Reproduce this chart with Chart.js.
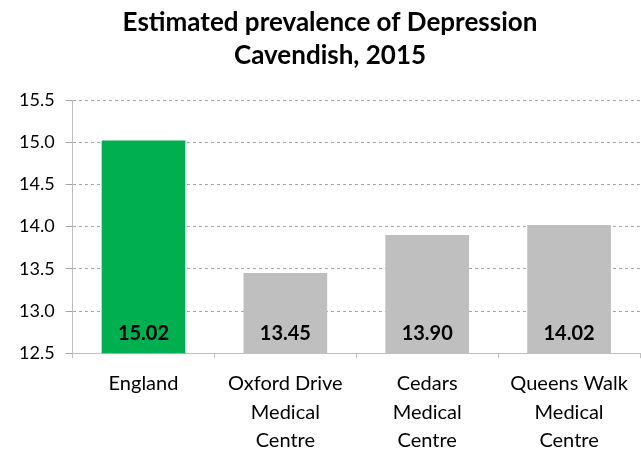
<!DOCTYPE html>
<html>
<head>
<meta charset="utf-8">
<script src="https://cdn.jsdelivr.net/npm/chart.js@4/dist/chart.umd.min.js"></script>
<style>
  html, body { margin: 0; padding: 0; background: #fff; }
  #wrap { width: 641px; height: 449px; }
</style>
</head>
<body>
<div id="wrap"><canvas id="myChart" width="641" height="449"></canvas></div>
<script>
const categories = [
  "England",
  ["Oxford Drive", "Medical", "Centre"],
  ["Cedars", "Medical", "Centre"],
  ["Queens Walk", "Medical", "Centre"],
];
const prevalence = [15.02, 13.45, 13.9, 14.02];
const barColors = ["#00B050", "#BFBFBF", "#BFBFBF", "#BFBFBF"];
const titleLines = ["Estimated prevalence of Depression", "Cavendish, 2015"];

const FONT = "Lato, 'Open Sans', sans-serif";

// value labels sitting at the foot of each bar
const barLabels = {
  id: "barLabels",
  afterDatasetsDraw(chart) {
    const ctx = chart.ctx;
    const yScale = chart.scales.y;
    const meta = chart.getDatasetMeta(0);
    ctx.save();
    ctx.font = "bold 20px " + FONT;
    ctx.fillStyle = "#000";
    ctx.textAlign = "center";
    ctx.textBaseline = "middle";
    meta.data.forEach((bar, i) => {
      ctx.fillText(prevalence[i].toFixed(2), bar.x, yScale.bottom - 20);
    });
    ctx.restore();
  },
};

// title is centred a little right of the canvas middle, like the original
const chartTitle = {
  id: "chartTitle",
  afterDraw(chart) {
    const ctx = chart.ctx;
    ctx.save();
    ctx.font = "bold 26px " + FONT;
    ctx.fillStyle = "#000";
    ctx.textAlign = "center";
    ctx.textBaseline = "middle";
    titleLines.forEach((line, i) => ctx.fillText(line, 330, 23 + i * 33));
    ctx.restore();
  },
};

const ctx = document.getElementById("myChart").getContext("2d");
new Chart(ctx, {
  type: "bar",
  data: {
    labels: categories,
    datasets: [
      {
        data: prevalence,
        backgroundColor: barColors,
        barPercentage: 0.59,
        categoryPercentage: 1,
      },
    ],
  },
  options: {
    responsive: false,
    animation: false,
    layout: { padding: { left: 8, right: 1, top: 100, bottom: -17 } },
    plugins: {
      legend: { display: false },
      tooltip: { enabled: false },
      title: { display: false },
    },
    scales: {
      y: {
        min: 12.5,
        max: 15.5,
        ticks: {
          stepSize: 0.5,
          color: "#000",
          padding: 11,
          font: { family: FONT, size: 18 },
          callback: (v) => v.toFixed(1),
        },
        grid: {
          color: "#a6a6a6",
          tickLength: 7,
        },
        border: { display: true, color: "#bfbfbf", dash: [3, 3] },
      },
      x: {
        ticks: {
          color: "#000",
          padding: 11,
          font: { family: FONT, size: 20, lineHeight: 1.43 },
          maxRotation: 0,
          autoSkip: false,
        },
        grid: {
          drawOnChartArea: false,
          drawTicks: true,
          tickLength: 5,
          color: "#bfbfbf",
        },
        border: { color: "#bfbfbf" },
      },
    },
  },
  plugins: [barLabels, chartTitle],
});
</script>
</body>
</html>
